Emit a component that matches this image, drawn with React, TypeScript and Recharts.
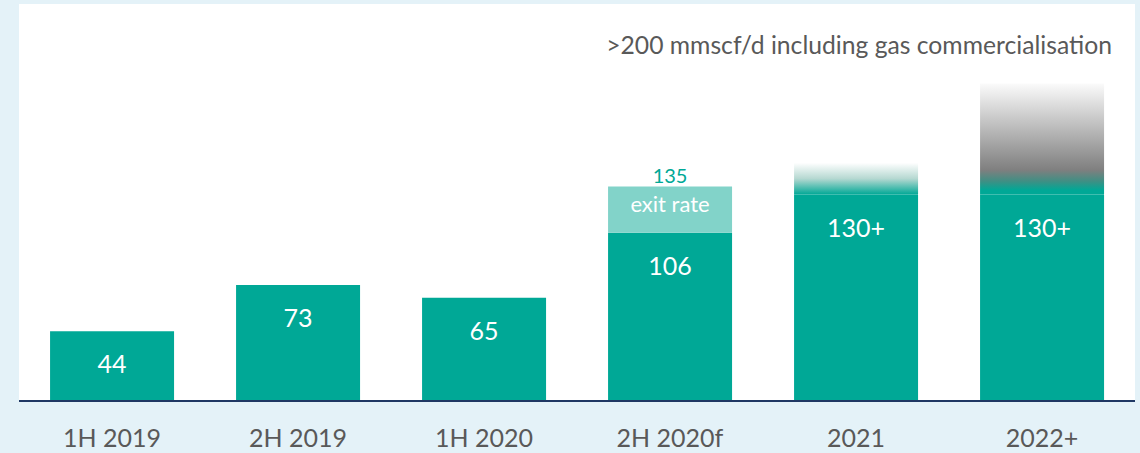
import React from 'react';
import { BarChart, Bar, XAxis, YAxis, CartesianGrid, Cell, LabelList } from 'recharts';

const categories = ['1H 2019', '2H 2019', '1H 2020', '2H 2020f', '2021', '2022+'];
const baseValues = [44, 73, 65, 106, 130, 130];
const baseLabels = ['44', '73', '65', '106', '130+', '130+'];
const exitRates = [null, null, null, 135, null, null];
const outlookTops = [null, null, null, null, 150, 200];
const headline = '>200 mmscf/d including gas commercialisation';

const TEAL = '#00a896';
const LIGHT_TEAL = '#82d3c9';
const GREY_TEXT = '#595959';
const FONT = 'Lato, "Open Sans", sans-serif';

const data = categories.map((name, i) => ({
  name,
  base: baseValues[i],
  baseLabel: baseLabels[i],
  exit: exitRates[i] != null ? (exitRates[i] as number) - baseValues[i] : null,
  exitLabel: exitRates[i] != null ? String(exitRates[i]) : null,
  outlook: outlookTops[i] != null ? (outlookTops[i] as number) - baseValues[i] : null,
}));

function BaseLabel(props: any) {
  const { x, y, width, value } = props;
  return (
    <text x={x + width / 2} y={y + 32} textAnchor="middle" dominantBaseline="central"
      fill="#fff" fontSize={25} fontFamily={FONT}>
      {value}
    </text>
  );
}

function ExitLabel(props: any) {
  const { x, y, width, value } = props;
  if (value == null) return null;
  return (
    <g fontFamily={FONT}>
      <text x={x + width / 2} y={y - 12} textAnchor="middle" dominantBaseline="central"
        fill={TEAL} fontSize={20}>{value}</text>
      <text x={x + width / 2} y={y + 17} textAnchor="middle" dominantBaseline="central"
        fill="#fff" fontSize={22}>exit rate</text>
    </g>
  );
}

export default function App() {
  return (
    <div style={{ position: 'absolute', left: 0, top: 0, width: 1140, height: 453, background: '#e4f2f8' }}>
      <svg width={0} height={0} style={{ position: 'absolute' }}>
        <defs>
          <linearGradient id="fade2021" x1="0" y1="0" x2="0" y2="1">
            <stop offset="0" stopColor="#ffffff" />
            <stop offset="0.5" stopColor="#b5d8d1" />
            <stop offset="1" stopColor={TEAL} />
          </linearGradient>
          <linearGradient id="fade2022" x1="0" y1="0" x2="0" y2="1">
            <stop offset="0" stopColor="#fbfbfb" />
            <stop offset="0.78" stopColor="#7f7f7f" />
            <stop offset="0.88" stopColor="#3f8f84" />
            <stop offset="0.96" stopColor={TEAL} />
            <stop offset="1" stopColor={TEAL} />
          </linearGradient>
        </defs>
      </svg>
      <BarChart width={1140} height={453} data={data} barCategoryGap="16.7%"
        margin={{ top: 4, right: 5, bottom: 22, left: 19 }}>
        <CartesianGrid fill="#ffffff" horizontal={false} vertical={false} />
        <XAxis dataKey="name" height={30} tickLine={false} tickSize={0} tickMargin={28}
          axisLine={{ stroke: '#1f3864', strokeWidth: 2 }}
          tick={{ fill: GREY_TEXT, fontSize: 25, fontFamily: FONT }} interval={0} />
        <YAxis hide domain={[0, 250]} />
        <Bar dataKey="base" stackId="a" fill={TEAL} isAnimationActive={false}>
          <LabelList dataKey="baseLabel" content={<BaseLabel />} />
        </Bar>
        <Bar dataKey="exit" stackId="a" fill={LIGHT_TEAL} isAnimationActive={false}>
          <LabelList dataKey="exitLabel" content={<ExitLabel />} />
        </Bar>
        <Bar dataKey="outlook" stackId="a" isAnimationActive={false}>
          {data.map((d, i) => (
            <Cell key={d.name} fill={i === 5 ? 'url(#fade2022)' : 'url(#fade2021)'} />
          ))}
        </Bar>
      </BarChart>
      <div style={{ position: 'absolute', right: 28, top: 31, fontFamily: FONT, fontSize: 24.7,
        lineHeight: '27px', color: GREY_TEXT, whiteSpace: 'nowrap' }}>
        {headline}
      </div>
    </div>
  );
}
